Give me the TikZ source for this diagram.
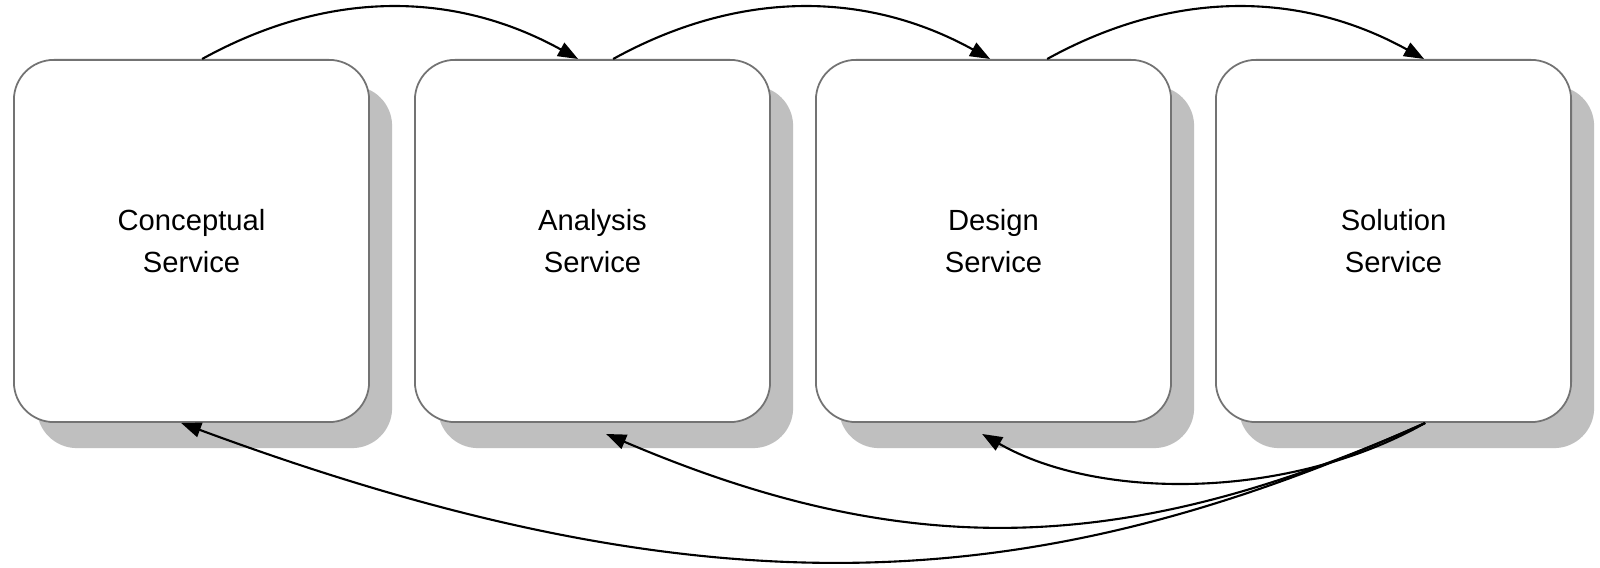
\documentclass[tikz,border=0pt]{standalone}
\usepackage{fontspec}
\setmainfont{Liberation Sans}
\usetikzlibrary{arrows.meta,shadows}
\begin{document}
\begin{tikzpicture}[x=0.01cm,y=-0.01cm,
  svc/.style={draw=black!55, line width=0.5pt, fill=white,
    rounded corners=0.4cm, minimum width=3.55cm, minimum height=3.62cm,
    inner sep=0pt, align=center, font=\fontsize{8.3}{11.9}\selectfont,
    general shadow={fill=black!25, shadow xshift=0.23cm, shadow yshift=-0.26cm}},
  flow/.style={line width=0.6pt, -{Triangle[length=0.2cm,width=0.15cm]}}]
\fill[white] (0,0) rectangle (1600,568);
\useasboundingbox (0,0) rectangle (1600,568);

% the four service stages
\node[svc] (con) at (191.5,241) {Conceptual\\Service};
\node[svc] (ana) at (592.5,241) {Analysis\\Service};
\node[svc] (des) at (993.5,241) {Design\\Service};
\node[svc] (sol) at (1393.5,241) {Solution\\Service};

% forward links over the top
\draw[flow] ([xshift=1.89cm]con.north west) .. controls +(125,-69) and +(-125,-69) .. ([xshift=1.64cm]ana.north west);
\draw[flow] ([xshift=1.99cm]ana.north west) .. controls +(125,-69) and +(-125,-69) .. ([xshift=1.75cm]des.north west);
\draw[flow] ([xshift=2.32cm]des.north west) .. controls +(125,-69) and +(-125,-69) .. ([xshift=2.09cm]sol.north west);

% feedback links underneath
\draw[flow] ([xshift=2.10cm]sol.south west) .. controls +(-136,77) and +(117,67) .. ([xshift=1.67cm,yshift=-0.11cm]des.south west);
\draw[flow] ([xshift=2.10cm]sol.south west) .. controls +(-300,134) and +(300,128) .. ([xshift=1.92cm,yshift=-0.11cm]ana.south west);
\draw[flow] ([xshift=2.10cm]sol.south west) .. controls +(-380,170) and +(540,200) .. ([xshift=1.68cm]con.south west);
\end{tikzpicture}
\end{document}
